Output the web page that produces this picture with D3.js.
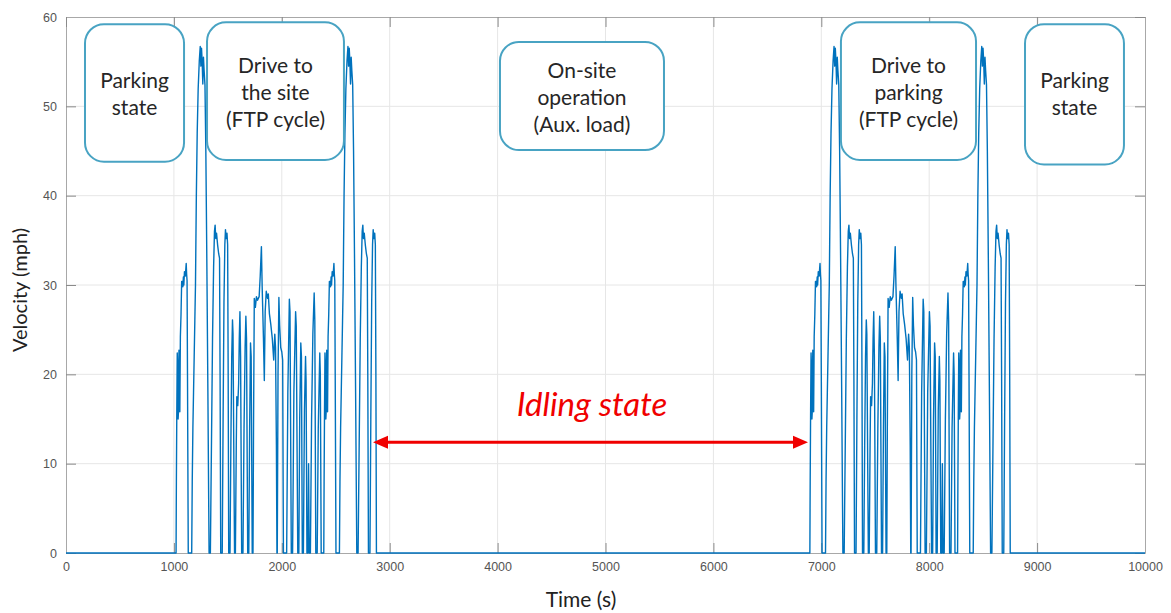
<!DOCTYPE html>
<html>
<head>
<meta charset="utf-8">
<script src="https://cdn.jsdelivr.net/npm/d3@7"></script>
<style>
  html, body { margin: 0; padding: 0; background: #fff; }
  svg { display: block; }
</style>
</head>
<body>
<svg id="chart" width="1171" height="613"></svg>
<script>
// FTP-75 drive cycle, [seconds from cycle start, mph].
// Start phase (run cold at the beginning, repeated hot at the end).
const startPhase = [
  [0,0],[20,0],[23,8],[27,16],[31,22.4],[35,21],[39,15],[43,16],[47,22.7],[51,21.3],[55,15.8],
  [60,24.2],[66,26.7],[72,30.4],[78,30.4],[83,29.8],[88,30.9],[92,30],[98,31.5],[106,31],
  [114,32.4],[118,31.2],[122,30.5],[126,20],[133,0],
  [165,0],[170,8],[176,14],[182,18],[188,22],[194,26],[200,30],[208,40],[216,47],[225,52],
  [235,55],[244,56.7],[250,54.5],[256,56.5],[262,55],[268,52.5],[274,55.5],[280,54],[288,52.4],
  [296,45],[305,33],[315,18],[326,0],
  [338,0],[348,12],[358,24],[368,32],[376,36],[382,36.7],[388,35.2],[395,35.8],[405,34.5],
  [415,33.5],[423,33],[428,20],[434,0],
  [448,0],[456,15],[464,28],[472,34.5],[478,36.2],[484,35.2],[492,35.8],[498,34.5],[503,20],[508,0]
];

// Stabilized phase: many short urban trips.
const stabilizedPhase = [
  [520,0],[528,12],[536,22],[543,26.1],[548,24.5],[556,10],[562,0],
  [570,0],[578,12],[583,17.5],[592,16.5],[600,19],[606,24],[612,27],[618,22],[628,0],
  [640,0],[650,14],[660,23],[667,26.5],[673,24],[684,0],
  [694,0],[702,14],[710,23.5],[716,22],[726,0],
  [733,0],[738,14],[745,28.5],[755,27.5],[765,28.7],[775,28.3],[790,28.7],[800,31],[811,34.3],
  [818,29.8],[830,24],[838,19.3],[846,27],[856,29.3],[868,28.5],[875,29],[885,26.8],[898,25.6],
  [912,24],[925,21.6],[935,24.5],[942,23],[950,12],[955,0],
  [958,0],[965,20],[973,28.6],[980,25.5],[990,23],[1000,22.5],[1008,21.6],[1015,0],
  [1045,0],[1056,18],[1070,28.4],[1076,27],[1088,0],
  [1100,0],[1112,18],[1128,27],[1134,25.4],[1148,0],
  [1158,0],[1166,15],[1176,23.5],[1182,22],[1190,0],
  [1200,0],[1210,16],[1220,22],[1225,19.3],[1233,0],
  [1242,0],[1248,10],[1254,0],
  [1265,0],[1276,15],[1288,24.6],[1300,29.1],[1306,26],[1315,0],
  [1328,0],[1338,14],[1352,22.4],[1357,20],[1365,0]
];

const hotStartOffset = 1369;          // s, start of the repeated start phase
const driveStarts = [1000, 6874];     // s, the two driving trips
const timeDomain = [0, 10000];
const speedDomain = [0, 60];
const xTicks = [0,1000,2000,3000,4000,5000,6000,7000,8000,9000,10000];
const yTicks = [0,10,20,30,40,50,60];

const stateLabels = [
  ["Parking", "state"],
  ["Drive to", "the site", "(FTP cycle)"],
  ["On-site", "operation", "(Aux. load)"],
  ["Drive to", "parking", "(FTP cycle)"],
  ["Parking", "state"]
];
const idleLabel = "Idling state";
const xTitle = "Time (s)";
const yTitle = "Velocity (mph)";

// ---- build the full velocity trace ----
const ftpCycle = [
  ...startPhase,
  ...stabilizedPhase,
  ...startPhase.map(([t, v]) => [t + hotStartOffset, v])
];
const trace = [[timeDomain[0], 0]];
driveStarts.forEach(s => ftpCycle.forEach(([t, v]) => trace.push([s + t, v])));
trace.push([timeDomain[1], 0]);

// ---- layout ----
const svg = d3.select("#chart");
const plot = { left: 66, right: 1145, top: 17, bottom: 553 };
const x = d3.scaleLinear().domain(timeDomain).range([plot.left, plot.right]);
const y = d3.scaleLinear().domain(speedDomain).range([plot.bottom, plot.top]);

const gridColor = "#e6e6e6";
const axisColor = "#a8a8a8";
const tickColor = "#8a8a8a";
const labelColor = "#555";

// grid
const grid = svg.append("g");
grid.selectAll("line.gx").data(xTicks.slice(1, -1)).join("line")
  .attr("x1", d => x(d)).attr("x2", d => x(d))
  .attr("y1", plot.top).attr("y2", plot.bottom)
  .attr("stroke", gridColor).attr("stroke-width", 1);
grid.selectAll("line.gy").data(yTicks.slice(1, -1)).join("line")
  .attr("y1", d => y(d)).attr("y2", d => y(d))
  .attr("x1", plot.left).attr("x2", plot.right)
  .attr("stroke", gridColor).attr("stroke-width", 1);

// axes with inward ticks, mirrored on top and right
const tickLen = 10;
const fmt = d3.format("d");
const styleAxis = g => {
  g.select(".domain").attr("stroke", axisColor);
  g.selectAll(".tick line").attr("stroke", tickColor);
  g.selectAll(".tick text")
    .attr("fill", labelColor)
    .style("font-family", "'Liberation Sans', Arial, sans-serif")
    .style("font-size", "12.5px");
};
svg.append("g").attr("transform", `translate(0,${plot.bottom})`)
  .call(d3.axisBottom(x).tickValues(xTicks).tickFormat(fmt).tickSize(-tickLen).tickPadding(9).tickSizeOuter(0))
  .call(styleAxis);
svg.append("g").attr("transform", `translate(${plot.left},0)`)
  .call(d3.axisLeft(y).tickValues(yTicks).tickFormat(fmt).tickSize(-tickLen).tickPadding(9).tickSizeOuter(0))
  .call(styleAxis);
svg.append("g").attr("transform", `translate(0,${plot.top})`)
  .call(d3.axisTop(x).tickValues(xTicks).tickFormat("").tickSize(-tickLen).tickSizeOuter(0))
  .call(styleAxis);
svg.append("g").attr("transform", `translate(${plot.right},0)`)
  .call(d3.axisRight(y).tickValues(yTicks).tickFormat("").tickSize(-tickLen).tickSizeOuter(0))
  .call(styleAxis);

// velocity trace
svg.append("clipPath").attr("id", "plotClip").append("rect")
  .attr("x", plot.left).attr("y", plot.top - 2)
  .attr("width", plot.right - plot.left).attr("height", plot.bottom - plot.top + 4);
svg.append("path")
  .datum(trace)
  .attr("clip-path", "url(#plotClip)")
  .attr("fill", "none")
  .attr("stroke", "#0072BD")
  .attr("stroke-width", 1.4)
  .attr("stroke-linejoin", "round")
  .attr("d", d3.line().x(d => x(d[0])).y(d => y(d[1])));

// axis titles
const titleFont = "Lato, 'Open Sans', sans-serif";
svg.append("text")
  .attr("x", 581).attr("y", 607)
  .attr("text-anchor", "middle")
  .attr("fill", "#222")
  .style("font-family", titleFont).style("font-size", "21px")
  .text(xTitle);
svg.append("text")
  .attr("transform", "translate(27,290) rotate(-90)")
  .attr("text-anchor", "middle")
  .attr("fill", "#222")
  .style("font-family", titleFont).style("font-size", "20px")
  .text(yTitle);

// state boxes, extents in data units [t0, t1, v0, v1]
const boxExtents = [
  [176, 1094, 43.8, 59.2],
  [1307, 2576, 44.0, 59.4],
  [4022, 5542, 45.1, 57.2],
  [7182, 8434, 44.0, 59.4],
  [8888, 9805, 43.5, 59.2]
];
const boxFirstBaseline = [52.0, 53.7, 53.2, 53.7, 52.0];   // mph level of first text line
const lineGap = 27;

const boxes = svg.append("g");
stateLabels.forEach((lines, i) => {
  const [t0, t1, v0, v1] = boxExtents[i];
  const g = boxes.append("g");
  g.append("rect")
    .attr("x", x(t0)).attr("y", y(v1))
    .attr("width", x(t1) - x(t0)).attr("height", y(v0) - y(v1))
    .attr("rx", 19).attr("ry", 19)
    .attr("fill", "#fff")
    .attr("stroke", "#48a3c3")
    .attr("stroke-width", 2);
  const cx = (x(t0) + x(t1)) / 2;
  const base0 = y(boxFirstBaseline[i]);
  g.selectAll("text").data(lines).join("text")
    .attr("x", cx)
    .attr("y", (d, k) => base0 + k * lineGap)
    .attr("text-anchor", "middle")
    .attr("fill", "#262626")
    .style("font-family", titleFont).style("font-size", "21px")
    .text(d => d);
});

// idling span arrow
const idleSpan = [2845, 6877];
const idleLevel = 12.4;
const red = "#f00000";
const ay = y(idleLevel);
const ax0 = x(idleSpan[0]), ax1 = x(idleSpan[1]);
const headL = 15, headW = 6.5;
svg.append("line")
  .attr("x1", ax0 + headL - 2).attr("x2", ax1 - headL + 2)
  .attr("y1", ay).attr("y2", ay)
  .attr("stroke", red).attr("stroke-width", 3.2);
svg.append("path")
  .attr("d", `M${ax0},${ay} L${ax0 + headL},${ay - headW} L${ax0 + headL},${ay + headW} Z`)
  .attr("fill", red);
svg.append("path")
  .attr("d", `M${ax1},${ay} L${ax1 - headL},${ay - headW} L${ax1 - headL},${ay + headW} Z`)
  .attr("fill", red);
svg.append("text")
  .attr("x", x(4875)).attr("y", y(15.3))
  .attr("text-anchor", "middle")
  .attr("fill", red)
  .style("font-family", titleFont).style("font-style", "italic").style("font-size", "33px")
  .text(idleLabel);
</script>
</body>
</html>
